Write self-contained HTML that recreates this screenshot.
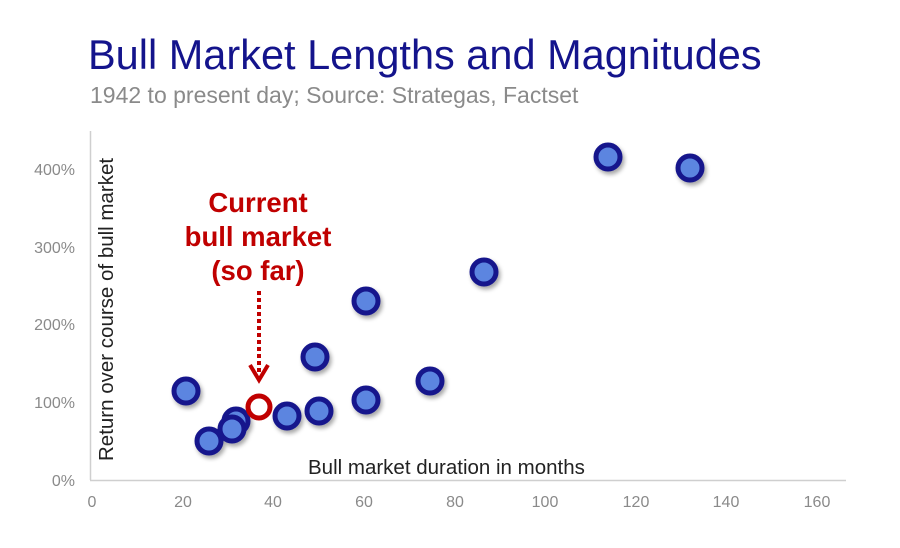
<!DOCTYPE html>
<html><head><meta charset="utf-8"><style>
body{margin:0;background:#fff;}
svg text{font-family:"Liberation Sans",Arial,sans-serif;}
</style></head><body>
<svg width="900" height="543" viewBox="0 0 900 543" xmlns="http://www.w3.org/2000/svg">
<defs><filter id="sh" x="-50%" y="-50%" width="200%" height="200%"><feDropShadow dx="2" dy="3" stdDeviation="2" flood-color="#000" flood-opacity="0.35"/></filter></defs>
<text x="88" y="69" font-size="41.5" fill="#14148c">Bull Market Lengths and Magnitudes</text>
<text x="90" y="103" font-size="23" fill="#8a8a8a">1942 to present day; Source: Strategas, Factset</text>
<line x1="90.5" y1="131" x2="90.5" y2="480" stroke="#cfcfcf" stroke-width="1.5"/>
<line x1="90" y1="480.5" x2="846" y2="480.5" stroke="#cfcfcf" stroke-width="1.5"/>
<g font-size="16" fill="#8a8a8a" text-anchor="end">
<text x="75" y="486">0%</text><text x="75" y="408">100%</text><text x="75" y="330">200%</text><text x="75" y="253">300%</text><text x="75" y="175">400%</text>
</g>
<g font-size="16" fill="#8a8a8a" text-anchor="middle">
<text x="92" y="507">0</text><text x="183" y="507">20</text><text x="273" y="507">40</text><text x="364" y="507">60</text><text x="455" y="507">80</text><text x="545" y="507">100</text><text x="636" y="507">120</text><text x="726" y="507">140</text><text x="817" y="507">160</text>
</g>
<text x="308" y="474" font-size="20.5" fill="#222">Bull market duration in months</text>
<text transform="translate(113,461) rotate(-90)" font-size="20.5" fill="#222">Return over course of bull market</text>
<g font-size="27.5" font-weight="bold" fill="#c00000" text-anchor="middle">
<text x="258" y="212">Current</text><text x="258" y="246">bull market</text><text x="258" y="280">(so far)</text>
</g>
<line x1="259" y1="291" x2="259" y2="372" stroke="#c00000" stroke-width="4" stroke-dasharray="4,3"/>
<polyline points="250,365 259,380 268,365" fill="none" stroke="#c00000" stroke-width="4"/>
<g fill="#5b85e0" stroke="#14148c" stroke-width="5" filter="url(#sh)">
<circle cx="186" cy="391" r="12"/><circle cx="209" cy="441" r="12"/>
<circle cx="236" cy="421" r="12"/><circle cx="232" cy="429" r="12"/>
<circle cx="287" cy="416" r="12"/><circle cx="319" cy="411" r="12"/>
<circle cx="315" cy="357" r="12"/><circle cx="366" cy="301" r="12"/>
<circle cx="366" cy="400" r="12"/><circle cx="430" cy="381" r="12"/>
<circle cx="484" cy="272" r="12"/><circle cx="608" cy="157" r="12"/>
<circle cx="690" cy="168" r="12"/>
</g>
<circle cx="259" cy="407" r="11" fill="#fff" stroke="#c00000" stroke-width="5"/>
</svg>
</body></html>
